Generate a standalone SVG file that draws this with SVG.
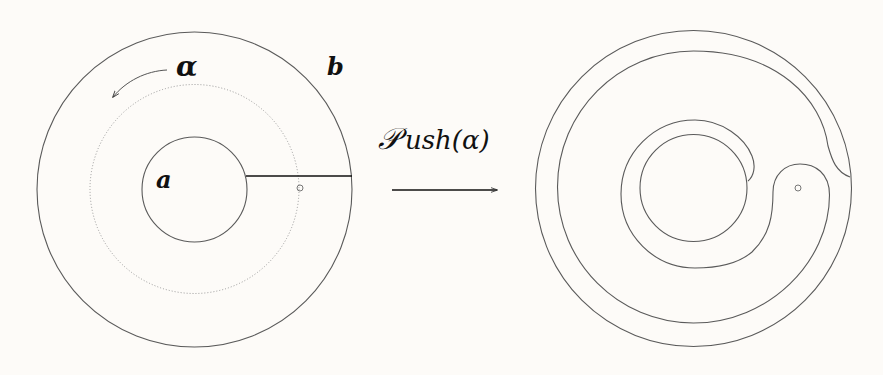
<svg xmlns="http://www.w3.org/2000/svg" width="883" height="375" viewBox="0 0 883 375">
  <style>
    .curve { fill: none; stroke: #5a5a5a; stroke-width: 1.1; }
    .dots { fill: none; stroke: #999; stroke-width: 1; stroke-dasharray: 1 2; }
    .lbl { font-family: "DejaVu Serif", "Liberation Serif", serif; font-style: italic; font-weight: bold; fill: #111; }
    .push { font-family: "DejaVu Serif", "Liberation Serif", serif; font-style: italic; fill: #111; }
  </style>
  <defs>
    <marker id="tip" viewBox="0 0 10 10" refX="9" refY="5" markerWidth="7" markerHeight="7" markerUnits="userSpaceOnUse" orient="auto">
      <path d="M0,1.5 L10,5 L0,8.5" fill="none" stroke="#333" stroke-width="1.2"/>
    </marker>
  </defs>
  <rect x="0" y="0" width="883" height="375" fill="#fdfbf8"/>

  <g id="left-surface">
    <circle class="curve" cx="194.5" cy="189.5" r="157.5"/>
    <circle class="curve" cx="194.5" cy="189.5" r="52.5"/>
    <circle class="dots" cx="194.5" cy="189" r="104.5"/>
    <line x1="246" y1="176" x2="352" y2="176" stroke="#111" stroke-width="1.6"/>
    <circle cx="300" cy="188" r="3" fill="none" stroke="#777" stroke-width="1"/>
    <path d="M167,70 C146,71 126,81 113,97" fill="none" stroke="#555" stroke-width="1" marker-end="url(#tip)"/>
    <text class="lbl" x="176" y="76" font-size="28">α</text>
    <text class="lbl" x="327" y="75" font-size="24">b</text>
    <text class="lbl" x="156" y="188" font-size="24">a</text>
  </g>

  <g id="connectors">
    <line x1="392" y1="190" x2="497" y2="190" stroke="#111" stroke-width="1.3" marker-end="url(#tip)"/>
    <text class="push" x="378" y="149" font-size="26"><tspan font-size="30">𝒫</tspan><tspan dx="5">ush(α)</tspan></text>
  </g>

  <g id="right-surface">
    <circle class="curve" cx="693.5" cy="188.5" r="158"/>
    <circle class="curve" cx="693.5" cy="188" r="53.5"/>
    <circle cx="798" cy="188" r="3" fill="none" stroke="#777" stroke-width="1"/>
    <path class="curve" d="M850,177 C836,172 832,160 828,146 C822,100 778,51 693.5,51 C618.4,51 557.5,111.9 557.5,187 C557.5,262.1 618.4,323 693.5,323 C768.6,323 829.5,262 829.5,195 C829.5,173 815,164 800,164 C785,164 773,175 773,192 C773,215 770,235 752,252 C738,264 716,268 695,268 C654.1,268 621,234.9 621,194 C621,153.1 654.1,120 695,120 C722,120 745,138 752,156 C756,166 754,176 748,181"/>
  </g>
</svg>
